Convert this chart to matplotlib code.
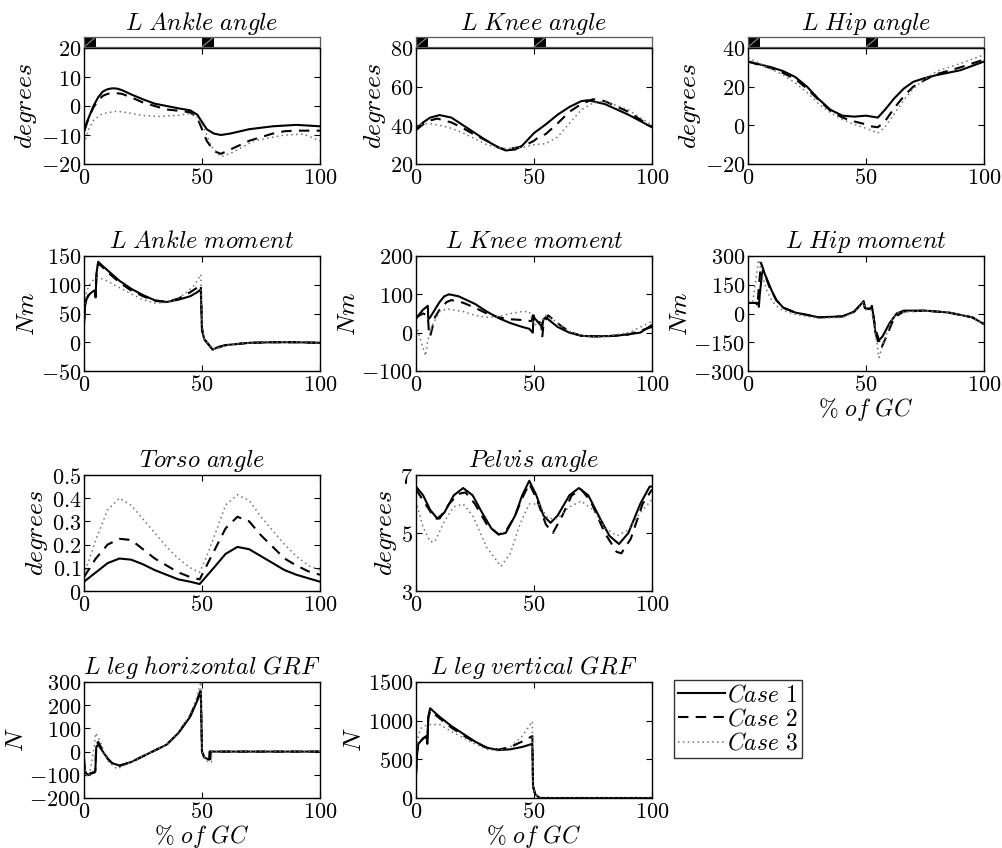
import matplotlib
matplotlib.use("Agg")
import matplotlib.pyplot as plt
from matplotlib.patches import Rectangle
from matplotlib.lines import Line2D
from matplotlib.ticker import FixedLocator, FuncFormatter

plt.rcParams['mathtext.fontset'] = 'cm'
plt.rcParams['font.family'] = ['DejaVu Serif']

# ---------------- data ----------------
CASES = ["Case 1", "Case 2", "Case 3"]
PHASE_SEGMENTS = [(0, 5), (50, 5)]
X_TICKS = [0, 50, 100]

# L Ankle angle
ank_ang_x1 = [0, 2, 4, 6, 8, 10, 12, 14, 16, 20, 25, 30, 35, 40, 45, 48, 50, 52, 55, 58, 62, 70, 80, 90, 100]
ank_ang_y1 = [-9, -4, 0, 3, 5, 5.8, 6.1, 6, 5.5, 4, 2.3, 0.8, 0, -0.8, -1.5, -3, -5.5, -8, -9.5, -10, -9.5, -8, -7, -6.5, -7]
ank_ang_x2 = [0, 2, 4, 6, 8, 10, 13, 16, 20, 25, 30, 35, 42, 45, 48, 50, 52, 55, 58, 62, 70, 80, 85, 90, 100]
ank_ang_y2 = [-8, -4, -0.5, 2, 3.5, 4.2, 4.5, 4.2, 3, 1.2, 0, -1.2, -1.8, -2.2, -4, -8, -12, -15.5, -16.5, -15, -12, -9.5, -8.7, -8.5, -8.5]
ank_ang_x3 = [0, 2, 4, 7, 10, 14, 20, 25, 32, 40, 45, 48, 51, 54, 58, 63, 72, 85, 93, 100]
ank_ang_y3 = [-13, -8, -5, -3, -2.3, -1.8, -2.5, -3.3, -3.6, -3.2, -2.6, -3.8, -8, -14, -17.5, -16, -12, -10, -9.7, -12]

# L Knee angle
kne_ang_x1 = [0, 3, 6, 10, 15, 20, 25, 30, 35, 38, 42, 45, 50, 55, 60, 65, 70, 73, 80, 90, 100]
kne_ang_y1 = [38, 41.5, 44, 45.3, 44, 40, 36, 32, 28.5, 27, 27.5, 29.5, 36, 40.5, 45.5, 49.5, 52.5, 53, 51, 45.5, 39]
kne_ang_x2 = [0, 3, 6, 9, 15, 20, 25, 30, 35, 38, 45, 50, 52, 55, 60, 65, 70, 75, 80, 90, 100]
kne_ang_y2 = [37.5, 40.5, 42.5, 43.5, 41.5, 38.5, 35, 32, 28.5, 27.5, 29, 32, 34, 35.5, 41, 47, 51, 53.5, 52.5, 47, 39]
kne_ang_x3 = [0, 5, 10, 15, 20, 25, 30, 35, 38, 45, 50, 55, 60, 65, 70, 75, 80, 90, 100]
kne_ang_y3 = [40, 41, 40, 38.5, 36, 33, 30, 28.5, 28, 28.5, 30, 30.5, 34, 41, 48, 51.5, 52.5, 48, 40]

# L Hip angle
hip_ang_x1 = [0, 5, 10, 15, 20, 25, 30, 35, 40, 45, 50, 55, 58, 62, 66, 70, 75, 80, 90, 100]
hip_ang_y1 = [33, 31.5, 30, 28, 25, 20, 13.5, 8, 5, 4.5, 5, 4, 8, 14, 19, 22.5, 24.5, 26, 28.5, 33]
hip_ang_x2 = [0, 5, 10, 15, 20, 25, 30, 35, 40, 45, 50, 52, 55, 58, 62, 66, 70, 75, 80, 90, 100]
hip_ang_y2 = [33, 31.2, 29.5, 27, 24, 19, 13, 7.5, 4, 2, 0.5, -0.5, -1, 2, 9, 15, 20, 23.5, 26.5, 30, 34]
hip_ang_x3 = [0, 5, 10, 15, 20, 25, 30, 35, 40, 45, 50, 55, 58, 62, 66, 70, 75, 80, 90, 100]
hip_ang_y3 = [35, 32, 29, 26, 22, 17, 11, 6.5, 3, 0.5, -1.5, -4, -1, 6, 13, 19, 24, 28, 32, 36.5]

# L Ankle moment
ank_mom_x1 = [0, 0.5, 1, 2, 3, 4, 4.6, 4.9, 5.3, 6, 7, 10, 15, 20, 25, 30, 35, 40, 45, 48, 49.5, 50, 51, 53, 54.5, 57, 60, 70, 80, 90, 100]
ank_mom_y1 = [30, 65, 75, 82, 86, 89, 90, 78, 120, 140, 136, 125, 107, 93, 82, 73, 70, 74, 80, 87, 92, 20, 5, -5, -13, -8, -5, -1, 0, 0, -1]
ank_mom_x2 = [0, 0.5, 1, 2, 3, 4, 4.6, 4.9, 5.3, 6, 7, 10, 15, 20, 25, 30, 35, 40, 45, 48, 49.5, 50, 51, 53, 54.5, 57, 60, 70, 80, 90, 100]
ank_mom_y2 = [35, 65, 75, 82, 86, 88, 89, 80, 118, 137, 134, 122, 104, 90, 80, 72, 70, 76, 87, 95, 100, 25, 5, -5, -12, -9, -5, -1, 0, 0, -1]
ank_mom_x3 = [0, 1, 2, 3, 4, 5, 6, 8, 10, 15, 20, 25, 30, 35, 38, 43, 47, 49.5, 50, 51, 53, 55, 58, 62, 70, 80, 90, 100]
ank_mom_y3 = [50, 85, 98, 104, 108, 111, 112, 110, 106, 95, 84, 74, 68, 69, 72, 85, 100, 118, 30, 5, -5, -12, -8, -4, -1, 0, 0, -1]

# L Knee moment
kne_mom_x1 = [0, 1, 3, 5, 5.2, 6, 8, 10, 12, 14, 18, 25, 30, 35, 40, 45, 48, 49.5, 49.8, 50, 52, 53.5, 54, 55, 57, 60, 65, 70, 75, 85, 95, 100]
kne_mom_y1 = [35, 45, 60, 70, 35, 40, 60, 80, 95, 100, 95, 75, 55, 38, 25, 15, 10, 0, 45, 40, 25, 15, 35, 40, 30, 15, 0, -8, -10, -8, 0, 20]
kne_mom_x2 = [0, 3, 5, 5.5, 6, 8, 10, 13, 15, 20, 25, 30, 35, 40, 45, 49, 49.5, 50, 53, 53.5, 54, 56, 58, 62, 66, 70, 80, 90, 100]
kne_mom_y2 = [40, 50, 45, 0, -10, 40, 60, 80, 85, 78, 65, 50, 40, 35, 33, 30, 45, 35, 25, -12, 20, 45, 35, 15, 0, -8, -10, -5, 15]
kne_mom_x3 = [0, 2, 4, 5, 7, 10, 13, 20, 25, 30, 35, 40, 45, 48, 50, 53, 55, 58, 62, 66, 72, 80, 90, 97, 100]
kne_mom_y3 = [20, -20, -60, -20, 20, 55, 62, 55, 45, 40, 42, 50, 55, 55, 20, 25, 45, 35, 15, 0, -10, -10, 0, 20, 30]

# L Hip moment
hip_mom_x1 = [0, 4, 4.4, 4.6, 5, 6, 6.5, 8, 10, 12, 15, 20, 30, 40, 45, 48, 49, 49.5, 50, 52, 52.5, 53, 54, 55, 57, 60, 63, 66, 75, 85, 95, 100]
hip_mom_y1 = [55, 55, 55, 35, 100, 215, 225, 180, 120, 70, 30, 5, -20, -15, 10, 50, 65, 30, 25, 25, 40, 0, -100, -145, -120, -50, 0, 15, 15, 5, -20, -55]
hip_mom_x2 = [0, 3.5, 4, 4.5, 5.5, 7, 9, 12, 15, 20, 30, 40, 45, 48, 49, 49.5, 50, 52, 53, 54, 56.5, 59, 62, 66, 75, 85, 95, 100]
hip_mom_y2 = [55, 55, 40, 120, 265, 210, 140, 70, 30, 5, -20, -15, 10, 50, 65, 30, 25, 25, 0, -80, -180, -110, -20, 10, 15, 5, -20, -55]
hip_mom_x3 = [0, 2, 3, 4.5, 6, 8, 10, 12, 15, 20, 30, 40, 45, 48, 49, 49.5, 50, 52, 53, 55.5, 58, 61, 64, 75, 85, 95, 100]
hip_mom_y3 = [60, 60, 150, 280, 200, 120, 70, 40, 15, -5, -25, -20, 5, 45, 60, 25, 20, 20, -20, -230, -130, -30, 5, 15, 5, -20, -55]

# Torso angle
tor_x1 = [0, 5, 10, 15, 20, 25, 30, 35, 40, 45, 49, 52, 55, 60, 65, 70, 75, 80, 85, 90, 95, 100]
tor_y1 = [0.04, 0.08, 0.12, 0.14, 0.135, 0.115, 0.09, 0.07, 0.05, 0.04, 0.03, 0.065, 0.10, 0.16, 0.19, 0.18, 0.15, 0.12, 0.09, 0.07, 0.055, 0.04]
tor_x2 = [0, 5, 10, 15, 20, 25, 30, 35, 40, 45, 49, 52, 55, 60, 65, 70, 75, 80, 85, 90, 95, 100]
tor_y2 = [0.06, 0.14, 0.2, 0.225, 0.22, 0.18, 0.14, 0.11, 0.08, 0.06, 0.05, 0.11, 0.17, 0.27, 0.32, 0.3, 0.24, 0.19, 0.14, 0.11, 0.085, 0.07]
tor_x3 = [0, 5, 10, 15, 20, 25, 30, 35, 40, 45, 49, 52, 55, 60, 65, 70, 75, 80, 85, 90, 95, 100]
tor_y3 = [0.07, 0.22, 0.35, 0.4, 0.37, 0.31, 0.25, 0.19, 0.14, 0.1, 0.08, 0.15, 0.23, 0.37, 0.415, 0.39, 0.32, 0.26, 0.2, 0.15, 0.11, 0.09]

# Pelvis angle
pel_x1 = [0, 3, 6, 9, 12, 16, 20, 24, 28, 32, 35, 38, 42, 45, 48, 51, 54, 57, 60, 65, 69, 73, 78, 82, 86, 90, 95, 99, 100]
pel_y1 = [6.6, 6.3, 5.8, 5.5, 5.7, 6.3, 6.55, 6.3, 5.7, 5.15, 4.95, 5.0, 5.6, 6.3, 6.8, 6.3, 5.6, 5.35, 5.6, 6.3, 6.55, 6.3, 5.5, 4.9, 4.62, 5.0, 6.0, 6.6, 6.6]
pel_x2 = [0, 4, 8, 10, 14, 18, 21, 25, 30, 35, 38, 42, 45, 48, 51, 55, 58, 62, 66, 70, 74, 80, 85, 87, 91, 96, 100]
pel_y2 = [6.5, 6.0, 5.5, 5.5, 6.0, 6.35, 6.4, 6.0, 5.3, 4.95, 5.05, 5.6, 6.2, 6.7, 6.2, 5.3, 5.0, 5.6, 6.3, 6.5, 6.1, 5.0, 4.35, 4.3, 4.8, 6.0, 6.5]
pel_x3 = [0, 3, 6, 8, 12, 16, 20, 24, 30, 36, 40, 44, 48, 52, 56, 60, 65, 70, 75, 80, 85, 90, 95, 100]
pel_y3 = [6.1, 5.2, 4.7, 4.7, 5.4, 5.9, 6.0, 5.6, 4.5, 3.85, 4.3, 5.3, 6.0, 6.0, 5.5, 5.5, 5.9, 6.1, 5.8, 5.2, 4.9, 5.1, 5.7, 6.15]

# L leg horizontal GRF
hgrf_x1 = [0, 0.3, 1, 2, 3, 4.5, 4.8, 5.2, 6, 8, 10, 12, 15, 20, 25, 30, 35, 40, 45, 48, 49.5, 49.8, 50, 51, 53, 53.2, 60, 100]
hgrf_y1 = [-30, -80, -95, -100, -95, -90, -85, 20, 30, 0, -30, -50, -60, -45, -20, 5, 30, 80, 150, 220, 260, 100, 0, -25, -35, 0, 0, 0]
hgrf_x2 = [0, 0.3, 1, 2, 3, 4.5, 4.8, 5.2, 6, 8, 10, 12, 15, 20, 25, 30, 35, 40, 45, 48, 49.5, 49.8, 50, 51, 53.5, 53.7, 60, 100]
hgrf_y2 = [-30, -80, -95, -98, -92, -88, -80, 30, 42, 5, -30, -52, -62, -45, -20, 5, 30, 80, 155, 225, 270, 100, 0, -28, -38, 0, 0, 0]
hgrf_x3 = [0, 1, 2, 3, 4, 5, 7, 10, 14, 18, 25, 30, 35, 40, 45, 48, 49.5, 50, 52, 54, 54.1, 60, 100]
hgrf_y3 = [-60, -100, -110, -60, 0, 80, 40, -40, -75, -55, -20, 5, 30, 85, 160, 240, 300, 0, -40, -45, 0, 0, 0]

# L leg vertical GRF
vgrf_x1 = [0, 0.5, 1, 3, 4.5, 4.8, 5.2, 6, 10, 15, 20, 25, 30, 35, 40, 45, 49.3, 49.6, 50.5, 52, 53, 100]
vgrf_y1 = [300, 600, 700, 770, 800, 700, 1050, 1160, 1050, 930, 830, 730, 650, 620, 630, 660, 700, 150, 50, 10, 0, 0]
vgrf_x2 = [0, 0.5, 1, 3, 4.5, 4.8, 5.2, 6, 10, 15, 20, 25, 30, 35, 40, 45, 49.3, 49.6, 50.5, 52, 53, 100]
vgrf_y2 = [300, 600, 700, 770, 800, 710, 1030, 1130, 1030, 910, 810, 720, 650, 625, 660, 730, 800, 150, 50, 10, 0, 0]
vgrf_x3 = [0, 0.5, 2, 5, 10, 15, 20, 25, 30, 35, 40, 45, 49.3, 49.6, 50.5, 52, 53, 100]
vgrf_y3 = [400, 750, 900, 950, 950, 860, 780, 700, 630, 610, 660, 800, 990, 150, 50, 10, 0, 0]

# ---------------- layout ----------------
W, H = 1003, 848
fig = plt.figure(figsize=(W / 100, H / 100), dpi=100)

COLS = [84, 416, 748]
AW = 236
ROWS = [(48, 164), (256, 371), (475, 591), (682, 798)]

STYLES = [dict(color='black', lw=1.5, ls='-'),
          dict(color='black', lw=1.5, ls=(0, (5, 3.5))),
          dict(color='0.45', lw=1.1, ls=(0, (1, 2.2)))]

TFS = 16
TITLE_FS = 17.5
LABEL_FS = 18.5
XLABEL_FS = 17
LEG_FS = 17


def mt(s):
    return '$' + s.replace(' ', r'\ ').replace('%', r'\%') + '$'


def make_ax(col, row):
    top, bot = ROWS[row]
    x0 = COLS[col]
    return fig.add_axes([x0 / W, 1 - bot / H, AW / W, (bot - top) / H])


def fmt(v, pos):
    s = ('%g' % v)
    return '$' + s + '$'


def setup(ax, title, ylabel, yticks, xlabel=None):
    ax.set_xlim(0, 100)
    ax.set_ylim(yticks[0], yticks[-1])
    ax.xaxis.set_major_locator(FixedLocator(X_TICKS))
    ax.yaxis.set_major_locator(FixedLocator(yticks))
    ax.xaxis.set_major_formatter(FuncFormatter(fmt))
    ax.yaxis.set_major_formatter(FuncFormatter(fmt))
    ax.tick_params(direction='in', top=True, right=True, length=4, width=0.8,
                   labelsize=TFS, pad=2)
    for sp in ax.spines.values():
        sp.set_linewidth(1.0)
    if title:
        ax.set_title(mt(title), fontsize=TITLE_FS, pad=6)
    ax.set_ylabel(mt(ylabel), fontsize=LABEL_FS, labelpad=1)
    if xlabel:
        ax.set_xlabel(mt(xlabel), fontsize=XLABEL_FS, labelpad=0)


def draw(ax, xs, ys):
    for x, y, st in zip(xs, ys, STYLES):
        ax.plot(x, y, **st)


def phase_bar(col):
    top, _ = ROWS[0]
    x0 = COLS[col]
    bax = fig.add_axes([x0 / W, 1 - (top - 1) / H, AW / W, 10 / H])
    bax.set_xlim(0, 100)
    bax.set_ylim(0, 1)
    bax.set_xticks([])
    bax.set_yticks([])
    for sp in bax.spines.values():
        sp.set_linewidth(0.9)
        sp.set_color('0.35')
    for start, width in PHASE_SEGMENTS:
        bax.add_patch(Rectangle((start, 0), width, 1, facecolor='black', edgecolor='none'))
        bax.plot([start, start + width], [0, 1], color='0.55', lw=0.8)
    return bax


panels = [
    (0, 0, 'L Ankle angle', 'degrees', [-20, -10, 0, 10, 20],
     (ank_ang_x1, ank_ang_x2, ank_ang_x3), (ank_ang_y1, ank_ang_y2, ank_ang_y3), None),
    (1, 0, 'L Knee angle', 'degrees', [20, 40, 60, 80],
     (kne_ang_x1, kne_ang_x2, kne_ang_x3), (kne_ang_y1, kne_ang_y2, kne_ang_y3), None),
    (2, 0, 'L Hip angle', 'degrees', [-20, 0, 20, 40],
     (hip_ang_x1, hip_ang_x2, hip_ang_x3), (hip_ang_y1, hip_ang_y2, hip_ang_y3), None),
    (0, 1, 'L Ankle moment', 'Nm', [-50, 0, 50, 100, 150],
     (ank_mom_x1, ank_mom_x2, ank_mom_x3), (ank_mom_y1, ank_mom_y2, ank_mom_y3), None),
    (1, 1, 'L Knee moment', 'Nm', [-100, 0, 100, 200],
     (kne_mom_x1, kne_mom_x2, kne_mom_x3), (kne_mom_y1, kne_mom_y2, kne_mom_y3), None),
    (2, 1, 'L Hip moment', 'Nm', [-300, -150, 0, 150, 300],
     (hip_mom_x1, hip_mom_x2, hip_mom_x3), (hip_mom_y1, hip_mom_y2, hip_mom_y3), '% of GC'),
    (0, 2, 'Torso angle', 'degrees', [0, 0.1, 0.2, 0.3, 0.4, 0.5],
     (tor_x1, tor_x2, tor_x3), (tor_y1, tor_y2, tor_y3), None),
    (1, 2, 'Pelvis angle', 'degrees', [3, 5, 7],
     (pel_x1, pel_x2, pel_x3), (pel_y1, pel_y2, pel_y3), None),
    (0, 3, 'L leg horizontal GRF', 'N', [-200, -100, 0, 100, 200, 300],
     (hgrf_x1, hgrf_x2, hgrf_x3), (hgrf_y1, hgrf_y2, hgrf_y3), '% of GC'),
    (1, 3, 'L leg vertical GRF', 'N', [0, 500, 1000, 1500],
     (vgrf_x1, vgrf_x2, vgrf_x3), (vgrf_y1, vgrf_y2, vgrf_y3), '% of GC'),
]

for col, row, title, ylab, yt, xs, ys, xl in panels:
    ax = make_ax(col, row)
    draw(ax, xs, ys)
    if row == 0:
        setup(ax, None, ylab, yt, xl)
        bax = phase_bar(col)
        bax.set_title(mt(title), fontsize=TITLE_FS, pad=1)
    else:
        setup(ax, title, ylab, yt, xl)

# legend
handles = [Line2D([], [], **st) for st in STYLES]
leg = fig.legend(handles, [mt(c) for c in CASES], loc='upper left',
                 bbox_to_anchor=(674 / W, 1 - 680 / H), fontsize=LEG_FS,
                 frameon=True, fancybox=False, edgecolor='black',
                 handlelength=2.0, handletextpad=0.1, borderpad=0.15,
                 labelspacing=0.05, borderaxespad=0)
leg.get_frame().set_linewidth(1.0)

fig.savefig('out.png', dpi=100)
